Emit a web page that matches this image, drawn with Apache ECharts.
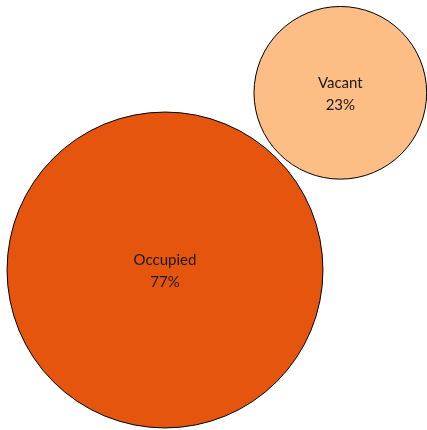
<!DOCTYPE html>
<html>
<head>
<meta charset="utf-8">
<script src="https://cdn.jsdelivr.net/npm/echarts@6/dist/echarts.min.js"></script>
<style>html,body{margin:0;padding:0;background:#fff}#c{width:427px;height:430px}</style>
</head>
<body>
<div id="c"></div>
<script>
// Data
var categories = ['Occupied', 'Vacant'];
var values = [77, 23];
var colors = ['#e6550d', '#fdbe85'];

// Layout (bubble packing): radius proportional to sqrt(value)
var W = 427, H = 430;
var k = 18.0;            // px per sqrt(unit)
var gap = 5;             // gap between bubbles
var r0 = k * Math.sqrt(values[0]);
var r1 = k * Math.sqrt(values[1]);
var c0 = [165, 270];
var ang = -45.3 * Math.PI / 180;
var d = r0 + r1 + gap;
var c1 = [c0[0] + d * Math.cos(ang), c0[1] + d * Math.sin(ang)];
var centers = [c0, c1];
var total = values.reduce(function(a, b){ return a + b; }, 0);

var data = categories.map(function(name, i){
  return {
    name: name,
    value: [centers[i][0], centers[i][1], values[i]],
    symbolSize: 2 * k * Math.sqrt(values[i]),
    itemStyle: { color: colors[i] }
  };
});

var chart = echarts.init(document.getElementById('c'), null, { renderer: 'canvas' });
chart.setOption({
  animation: false,
  backgroundColor: '#ffffff',
  grid: { left: 0, right: 0, top: 0, bottom: 0 },
  xAxis: { type: 'value', min: 0, max: W, show: false },
  yAxis: { type: 'value', min: 0, max: H, inverse: true, show: false },
  series: [{
    type: 'scatter',
    symbol: 'circle',
    data: data,
    itemStyle: { borderColor: '#000', borderWidth: 1, opacity: 1 },
    label: {
      show: true,
      position: 'inside',
      offset: [0, 1.5],
      fontFamily: 'Lato',
      fontSize: 15,
      lineHeight: 22,
      color: '#1a1a1a',
      formatter: function(p){
        return p.name + '\n' + Math.round(p.value[2] / total * 100) + '%';
      }
    },
    emphasis: { disabled: true }
  }]
});
</script>
</body>
</html>
